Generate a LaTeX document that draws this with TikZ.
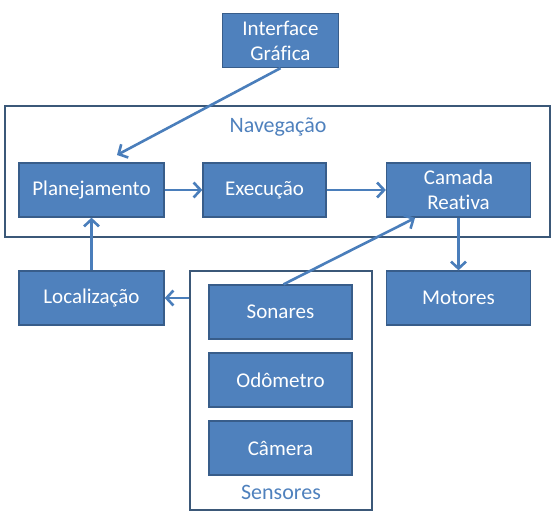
\documentclass[tikz,border=0pt]{standalone}
\usepackage{fontspec}
\setmainfont{Carlito}[Ligatures=NoCommon]
\usetikzlibrary{arrows.meta}
\usepackage{xcolor}
\definecolor{azul}{HTML}{4F81BD}
\definecolor{borda}{HTML}{385D8A}
\definecolor{linha}{HTML}{4A7EBB}
\definecolor{caixa}{HTML}{3B5878}
\tikzset{
    bloco/.style={draw=borda,line width=1.3,fill=azul,text=white,
        minimum height=54,align=center,inner sep=0,
        font=\fontsize{21}{25}\selectfont},
    grupo/.style={draw=caixa,line width=1.5,inner sep=0},
    rotulo/.style={text=azul,font=\fontsize{22}{25}\selectfont},
    seta/.style={draw=linha,line width=2.6,
        -{Straight Barb[length=7,width=15,line width=2.6]}},
}
\newcommand{\bloco}[5] {
    \node[bloco,minimum width=#4] (#1) at (#2,#3) {#5};
}

\begin{document}
\begin{tikzpicture}[x=1pt,y=-1pt]
        \useasboundingbox (0,0) rectangle (554,524);
        % containers
        \node[grupo,minimum width=545,minimum height=131] (nav) at (277.5,171.5) {};
        \node[rotulo] (navlabel) at (278,127) {Navegação};
        \node[grupo,minimum width=182,minimum height=239] (sens) at (281,390.5) {};
        \node[rotulo] (senslabel) at (281,492) {Sensores};
        % blocks
        \bloco{gui}{280.5}{40.5}{116}{Interface\\Gráfica}
        \bloco{plan}{91.5}{190}{145}{Planejamento}
        \bloco{exec}{264.5}{190}{123}{Execução}
        \bloco{cam}{458.5}{190}{144}{Camada\\Reativa}
        \bloco{loc}{91.5}{298}{145}{Localização}
        \bloco{mot}{458.5}{298}{144}{Motores}
        \bloco{son}{280.5}{312}{143}{Sonares}
        \bloco{odo}{280.5}{380}{143}{Odômetro}
        \bloco{cmr}{280.5}{448}{143}{Câmera}
        % free ends
        \coordinate (guiend) at (117,155);
        \coordinate (camend) at (415,218);
        % arrows
        \draw[seta] (gui.south) -- (guiend);
        \draw[seta] (plan) -- (exec);
        \draw[seta] (exec) -- (cam);
        \draw[seta] (loc) -- (plan);
        \draw[seta] (cam.south) -- (mot);
        \draw[seta] (son.north) ++(3,0) -- (camend);
        \draw[seta] (sens.west |- loc) -- (loc);
    \end{tikzpicture}
\end{document}
